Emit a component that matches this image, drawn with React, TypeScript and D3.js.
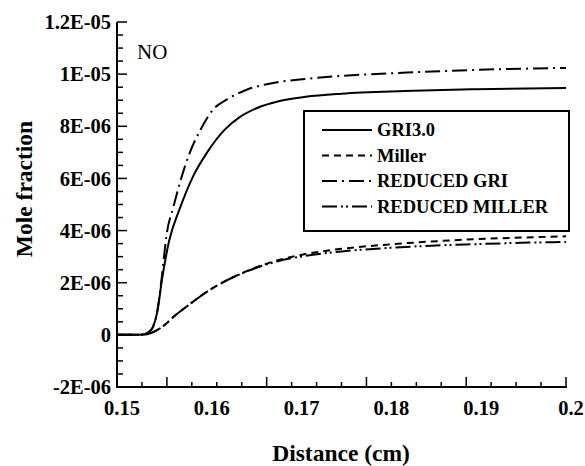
import React from "react";
import * as d3 from "d3";

// ---- data (mole fraction in units of 1E-06) ----
const gri30X = [0.15, 0.152, 0.153, 0.1535, 0.154, 0.1545, 0.155, 0.1558, 0.157, 0.1585, 0.16, 0.162, 0.1637, 0.1656, 0.168, 0.171, 0.175, 0.182, 0.19, 0.2];
const gri30Y = [0, 0, 0.02, 0.1, 0.3, 0.9, 2.1, 3.6, 4.85, 6.1, 6.98, 7.87, 8.36, 8.7, 8.96, 9.13, 9.25, 9.35, 9.42, 9.47];

const millerX = [0.15, 0.152, 0.153, 0.1535, 0.154, 0.155, 0.1565, 0.158, 0.16, 0.162, 0.164, 0.166, 0.168, 0.171, 0.175, 0.18, 0.185, 0.19, 0.195, 0.2];
const millerY = [0, 0, 0.01, 0.04, 0.1, 0.3, 0.75, 1.15, 1.65, 2.05, 2.38, 2.65, 2.87, 3.1, 3.3, 3.46, 3.58, 3.67, 3.73, 3.78];

const reducedGriX = [0.15, 0.152, 0.153, 0.1535, 0.154, 0.1545, 0.155, 0.1555, 0.1563, 0.157, 0.1581, 0.1593, 0.1607, 0.1622, 0.1645, 0.1674, 0.1712, 0.1749, 0.1823, 0.1897, 0.2];
const reducedGriY = [0, 0, 0.02, 0.1, 0.3, 0.95, 2.25, 3.79, 4.93, 5.83, 6.98, 7.87, 8.64, 9.02, 9.41, 9.66, 9.82, 9.93, 10.06, 10.16, 10.24];

const reducedMillerX = [0.15, 0.152, 0.153, 0.1535, 0.154, 0.155, 0.1565, 0.158, 0.16, 0.162, 0.164, 0.166, 0.168, 0.171, 0.175, 0.18, 0.185, 0.19, 0.195, 0.2];
const reducedMillerY = [0, 0, 0.01, 0.04, 0.1, 0.3, 0.75, 1.15, 1.65, 2.05, 2.37, 2.63, 2.83, 3.03, 3.2, 3.33, 3.42, 3.48, 3.53, 3.56];

const seriesNames = ["GRI3.0", "Miller", "REDUCED GRI", "REDUCED MILLER"];
const seriesDash = ["none", "7,5", "15,5,2,5", "15,4,2,3,2,4"];

const yTickValues = [-2e-6, 0, 2e-6, 4e-6, 6e-6, 8e-6, 1e-5, 1.2e-5];
const yTickLabels = ["-2E-06", "0", "2E-06", "4E-06", "6E-06", "8E-06", "1E-05", "1.2E-05"];
const xTickValues = [0.15, 0.16, 0.17, 0.18, 0.19, 0.2];
const xTickLabels = ["0.15", "0.16", "0.17", "0.18", "0.19", "0.2"];

const W = 585;
const H = 466;
const CSS = "svg.chart text{font-family:'Liberation Serif','Times New Roman',monospace !important;}";

function T(props: any) {
  const { children, ...rest } = props;
  return (
    <text {...rest} fontFamily="Liberation Serif" style={{ fontFamily: "'Liberation Serif', 'Times New Roman', monospace" }}>
      {children}
    </text>
  );
}

export default function App() {
  const x = d3.scaleLinear().domain([0.15, 0.2]).range([117, 566]);
  const y = d3.scaleLinear().domain([-2e-6, 1.2e-5]).range([387, 22]);

  const series = [
    { xs: gri30X, ys: gri30Y },
    { xs: millerX, ys: millerY },
    { xs: reducedGriX, ys: reducedGriY },
    { xs: reducedMillerX, ys: reducedMillerY },
  ];

  const line = d3
    .line<[number, number]>()
    .x((d) => x(d[0]))
    .y((d) => y(d[1] * 1e-6))
    .curve(d3.curveMonotoneX);

  const yMinor = d3.range(-2e-6, 1.2e-5 + 1e-9, 5e-7);
  const xMinorStep = 0.05 / 18;
  const xMinor = d3.range(0, 19).map((i) => 0.15 + i * xMinorStep);

  const [y0, y1] = y.range();
  const [x0, x1] = x.range();

  return (
    <svg className="chart" width={W} height={H} style={{ position: "absolute", left: 0, top: 0 }}>
      <style>{CSS}</style>
      <rect x={0} y={0} width={W} height={H} fill="#fff" />
      {/* curves */}
      {series.map((s, i) => (
        <path
          key={i}
          d={line(s.xs.map((v, k) => [v, s.ys[k]] as [number, number])) || ""}
          fill="none"
          stroke="#000"
          strokeWidth={2}
          strokeDasharray={seriesDash[i] === "none" ? undefined : seriesDash[i]}
        />
      ))}

      {/* axes */}
      <line x1={x0} x2={x0} y1={y1} y2={y0} stroke="#000" strokeWidth={2} />
      <line x1={x0 - 1} x2={x1 + 1} y1={y0} y2={y0} stroke="#000" strokeWidth={2} />

      {/* y ticks */}
      {yMinor.map((v, i) => {
        const major = i % 4 === 0;
        return (
          <line key={"ym" + i} x1={x0} x2={x0 + (major ? 10 : 6)} y1={y(v)} y2={y(v)} stroke="#000" strokeWidth={1.5} />
        );
      })}
      {yTickValues.map((v, i) => (
        <T key={"yl" + i} x={111} y={y(v)} dy="0.35em" textAnchor="end" fontSize={20.5} fontWeight="bold">
          {yTickLabels[i]}
        </T>
      ))}

      {/* x ticks */}
      {xMinor.map((v, i) => {
        const major = i % 4 === 2;
        return (
          <line key={"xm" + i} x1={x(v)} x2={x(v)} y1={y0} y2={y0 - (major ? 10 : 5)} stroke="#000" strokeWidth={1.5} />
        );
      })}
      {xTickValues.map((v, i) => (
        <T key={"xl" + i} x={x(v) + 5} y={415} textAnchor="middle" fontSize={20.5} fontWeight="bold">
          {xTickLabels[i]}
        </T>
      ))}

      {/* axis titles */}
      <T x={341} y={461} textAnchor="middle" fontSize={23.5} fontWeight="bold">
        Distance (cm)
      </T>
      <T transform="translate(32,189) rotate(-90)" textAnchor="middle" fontSize={23.5} fontWeight="bold">
        Mole fraction
      </T>

      {/* species label */}
      <T x={137} y={59} fontSize={21}>NO</T>

      {/* legend */}
      <rect x={304} y={111} width={265} height={120} fill="#fff" stroke="#000" strokeWidth={2} />
      {seriesNames.map((name, i) => {
        const ry = 130 + i * 25.5;
        return (
          <g key={"lg" + i}>
            <line
              x1={322}
              x2={372}
              y1={ry}
              y2={ry}
              stroke="#000"
              strokeWidth={2}
              strokeDasharray={seriesDash[i] === "none" ? undefined : seriesDash[i]}
            />
            <T x={377} y={ry} dy="0.35em" fontSize={18.5} fontWeight="bold">
              {name}
            </T>
          </g>
        );
      })}
    </svg>
  );
}
